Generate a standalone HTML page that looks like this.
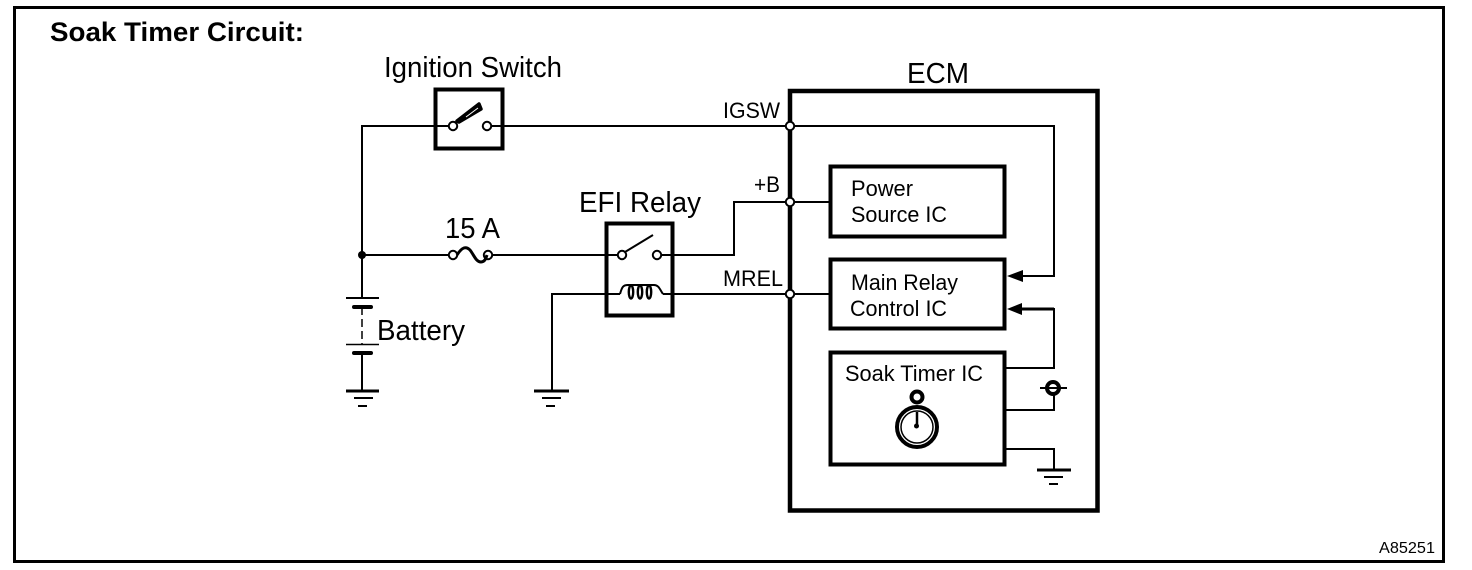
<!DOCTYPE html>
<html>
<head>
<meta charset="utf-8">
<style>
html,body{margin:0;padding:0;background:#fff;width:1472px;height:570px;overflow:hidden}
svg{display:block}
text{font-family:"Liberation Sans",Arial,sans-serif;fill:#000}
</style>
</head>
<body>
<svg width="1472" height="570" viewBox="0 0 1472 570" xmlns="http://www.w3.org/2000/svg">
<rect width="1472" height="570" fill="#fff"/>
<rect x="14.5" y="7.5" width="1429" height="554" fill="none" stroke="#000" stroke-width="3"/>

<g fill="none" stroke="#000" stroke-width="2">
  <path d="M362 298V126H449M491 126H790"/>
  <path d="M790 126H1054V276H1018"/>
  <path d="M362 255H449M492 255H618M661 255H734V202H829"/>
  <path d="M552 391V294H620M663 294H829"/>
  <path d="M1006 368H1054V309H1020"/>
  <path d="M1006 410H1054V394"/>
  <path d="M1006 449H1054V470"/>
  <path d="M362 307V344" stroke-dasharray="8 4" stroke-width="1.5"/>
  <path d="M362 353V391"/>
</g>

<!-- ECM and boxes -->
<g fill="none" stroke="#000">
  <rect x="790" y="91" width="307.5" height="419.5" stroke-width="4.5"/>
  <rect x="830.5" y="166.5" width="174" height="70" stroke-width="4" fill="#fff"/>
  <rect x="830.5" y="259.5" width="174" height="69" stroke-width="4" fill="#fff"/>
  <rect x="830.5" y="352.5" width="174" height="112" stroke-width="4" fill="#fff"/>
  <rect x="435.5" y="89.5" width="67" height="59" stroke-width="4"/>
  <rect x="606.5" y="223.5" width="66" height="92" stroke-width="4"/>
</g>

<!-- Terminals -->
<g fill="#fff" stroke="#000" stroke-width="2">
  <circle cx="790" cy="126" r="4.2"/>
  <circle cx="790" cy="202" r="4.2"/>
  <circle cx="790" cy="294" r="4.2"/>
  <circle cx="453" cy="126" r="4.2"/>
  <circle cx="487" cy="126" r="4.2"/>
  <circle cx="453" cy="255" r="4.2"/>
  <circle cx="488" cy="255" r="4.2"/>
  <circle cx="622" cy="255" r="4.2"/>
  <circle cx="657" cy="255" r="4.2"/>
</g>
<circle cx="362" cy="255" r="4" fill="#000"/>

<!-- Ignition switch blade -->
<path d="M457 121L479 104L481 109L459 122Z" fill="#000" stroke="#000" stroke-width="3.5" stroke-linejoin="round"/>
<path d="M466 117L478 108" stroke="#fff" stroke-width="1"/>
<!-- Relay blade -->
<path d="M625 252L653 235" stroke="#000" stroke-width="2" fill="none"/>
<!-- Fuse -->
<path d="M457 255C462 247 466 246 470 250C474 255 476 262 481 262C485 262 486 258 487 255" fill="none" stroke="#000" stroke-width="3"/>
<!-- Coil -->
<path d="M620 294C622 287 623 285 628 285H654C659 285 660 290 663 294" fill="none" stroke="#000" stroke-width="2"/>
<g fill="#fff" stroke="#000" stroke-width="2.4">
  <ellipse cx="631" cy="292" rx="2.2" ry="6.5"/>
  <ellipse cx="640" cy="292" rx="2.2" ry="6.5"/>
  <ellipse cx="649" cy="292" rx="2.2" ry="6.5"/>
</g>

<!-- Battery -->
<g stroke="#000" fill="none">
  <path d="M346 298H379" stroke-width="2"/>
  <path d="M354 307H371" stroke-width="4" stroke-linecap="round"/>
  <path d="M346 344.500H379" stroke-width="1.500"/>
  <path d="M354 353H371" stroke-width="4" stroke-linecap="round"/>
</g>

<!-- Grounds -->
<g stroke="#000" fill="none">
  <path d="M346 391H379" stroke-width="3"/><path d="M354 398H373" stroke-width="2"/><path d="M358 406H367" stroke-width="2"/>
  <path d="M534 391H569" stroke-width="3"/><path d="M542 398H561" stroke-width="2"/><path d="M546 406H555" stroke-width="2"/>
  <path d="M1037 470H1071" stroke-width="3"/><path d="M1044 477H1063" stroke-width="2"/><path d="M1049 484H1058" stroke-width="2"/>
</g>

<!-- Arrowheads -->
<path d="M1007 276L1023 270V282Z" fill="#000"/>
<path d="M1007 309L1022 303V315Z" fill="#000"/>
<path d="M1020 309H1054" stroke="#000" stroke-width="3"/>

<!-- Battery-backup terminal -->
<path d="M1040 388H1067" stroke="#000" stroke-width="2"/>
<circle cx="1053" cy="388" r="6" fill="#fff" stroke="#000" stroke-width="4"/>
<path d="M1047 388H1059" stroke="#000" stroke-width="2"/>

<!-- Stopwatch -->
<circle cx="917" cy="397" r="5.5" fill="#fff" stroke="#000" stroke-width="4"/>
<circle cx="917" cy="427" r="20" fill="#fff" stroke="#000" stroke-width="4"/>
<circle cx="917" cy="427" r="16" fill="none" stroke="#000" stroke-width="1.500"/>
<path d="M917 412V425" stroke="#000" stroke-width="2.500"/>
<circle cx="916.500" cy="426" r="2.500" fill="#000"/>

<!-- Labels -->
<text x="50" y="41" font-size="27" font-weight="700" textLength="254" lengthAdjust="spacingAndGlyphs">Soak Timer Circuit:</text>
<text x="384" y="77" font-size="29" textLength="178" lengthAdjust="spacingAndGlyphs">Ignition Switch</text>
<text x="907" y="83" font-size="29" textLength="62" lengthAdjust="spacingAndGlyphs">ECM</text>
<text x="579" y="212" font-size="29" textLength="122" lengthAdjust="spacingAndGlyphs">EFI Relay</text>
<text x="445" y="238" font-size="29" textLength="55" lengthAdjust="spacingAndGlyphs">15 A</text>
<text x="377" y="340" font-size="29" textLength="88" lengthAdjust="spacingAndGlyphs">Battery</text>
<text x="723" y="118" font-size="22" textLength="57" lengthAdjust="spacingAndGlyphs">IGSW</text>
<text x="754" y="192" font-size="22" textLength="26" lengthAdjust="spacingAndGlyphs">+B</text>
<text x="723" y="286" font-size="22" textLength="60" lengthAdjust="spacingAndGlyphs">MREL</text>
<text x="851" y="196" font-size="22" textLength="62" lengthAdjust="spacingAndGlyphs">Power</text>
<text x="851" y="222" font-size="22" textLength="96" lengthAdjust="spacingAndGlyphs">Source IC</text>
<text x="851" y="290" font-size="22" textLength="107" lengthAdjust="spacingAndGlyphs">Main Relay</text>
<text x="850" y="316" font-size="22" textLength="97" lengthAdjust="spacingAndGlyphs">Control IC</text>
<text x="845" y="381" font-size="22" textLength="138" lengthAdjust="spacingAndGlyphs">Soak Timer IC</text>
<text x="1379" y="553" font-size="16" textLength="56" lengthAdjust="spacingAndGlyphs">A85251</text>
</svg>
</body>
</html>
